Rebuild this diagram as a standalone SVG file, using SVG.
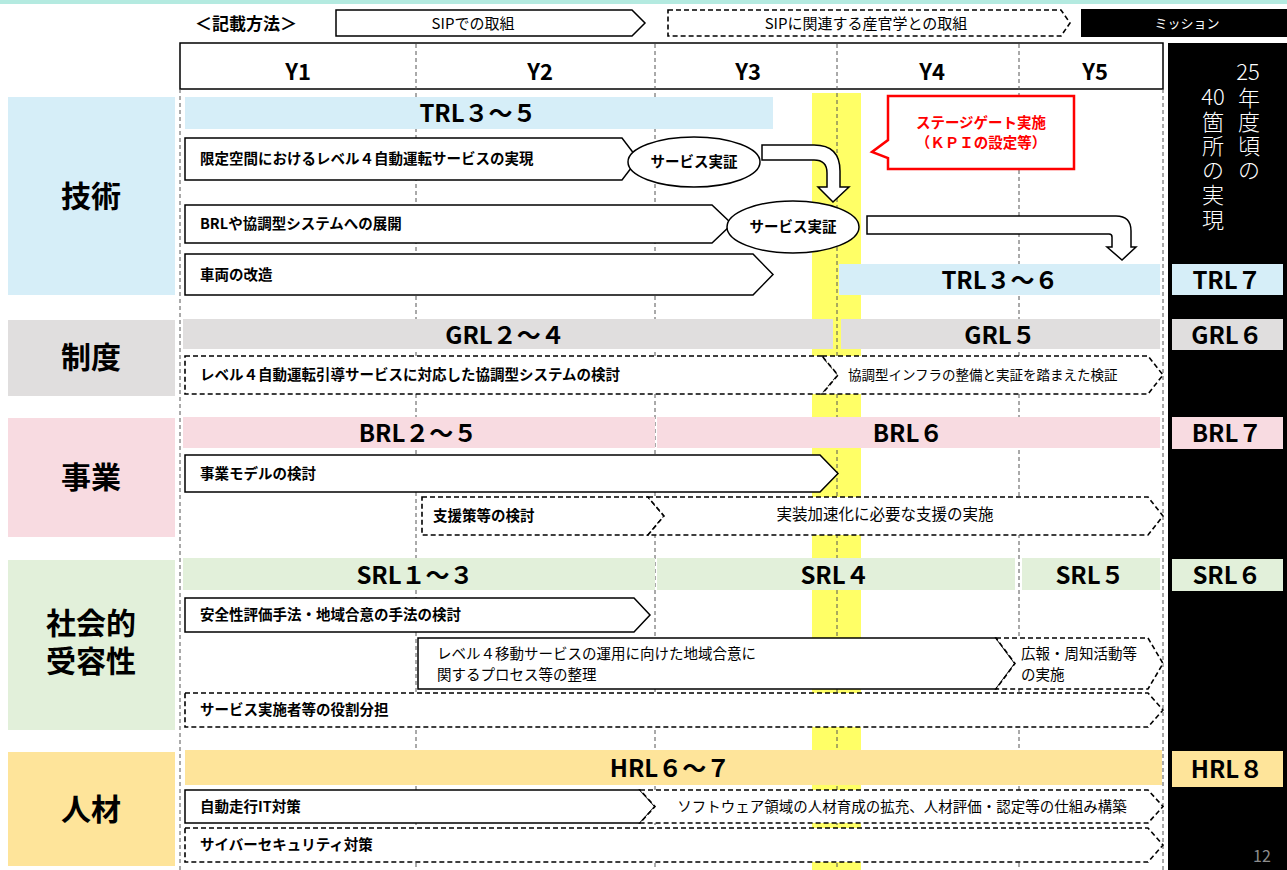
<svg xmlns="http://www.w3.org/2000/svg" width="1287" height="870" viewBox="0 0 1287 870">
<style>
text{font-family:"Noto Sans CJK JP","Noto Sans",sans-serif;fill:#000}
.dl{stroke:#555;stroke-dasharray:4 3;stroke-width:1;fill:none}
.sa{fill:#fff;stroke:#000;stroke-width:1.5}
.da{fill:#fff;stroke:#000;stroke-width:1.6;stroke-dasharray:5 3}
.tb{font-weight:bold;font-size:14.5px}
.tr{font-weight:normal;font-size:14.5px}
.lvl{font-weight:bold;font-size:24px;text-anchor:middle}
.cat{font-weight:bold;font-size:30px;text-anchor:middle}
.yr{font-weight:bold;font-size:22px;text-anchor:middle}
.mis{fill:#fff;font-size:22px;font-weight:300;text-anchor:middle}
.blue{fill:#d6eef8}.gray{fill:#e0dede}.pink{fill:#f8dbe1}.green{fill:#e2f0da}.gold{fill:#fee49a}
</style>
<rect x="0" y="0" width="1287" height="870" fill="#fff"/>
<rect x="0" y="0" width="1287" height="4" fill="#b4eae0"/>

<!-- legend -->
<g id="legend">
<text x="195" y="30" font-weight="bold" font-size="17">＜記載方法＞</text>
<polygon class="sa" points="336,10 632,10 645,23 632,36 336,36"/>
<text x="473" y="29" font-size="15" text-anchor="middle">SIPでの取組</text>
<polygon class="da" points="668,10 1061,10 1070,23 1061,36 668,36"/>
<text x="866" y="29" font-size="15" text-anchor="middle">SIPに関連する産官学との取組</text>
<rect x="1081" y="9" width="206" height="28" fill="#000"/>
<text x="1187" y="28" font-size="13" text-anchor="middle" style="fill:#fff">ミッション</text>
</g>

<!-- mission column -->
<g id="mission">
<rect x="1168" y="43" width="119" height="827" fill="#000"/>
<text class="mis" x="1248" y="80">25</text>
<text class="mis" x="1213" y="105">40</text>
<text class="mis" x="1249" y="106">年</text>
<text class="mis" x="1249" y="130">度</text>
<text class="mis" x="1249" y="154">頃</text>
<text class="mis" x="1249" y="178">の</text>
<text class="mis" x="1213" y="130">箇</text>
<text class="mis" x="1213" y="154">所</text>
<text class="mis" x="1213" y="178">の</text>
<text class="mis" x="1213" y="203">実</text>
<text class="mis" x="1213" y="228">現</text>
<rect class="blue" x="1172" y="264" width="111" height="31"/>
<text class="lvl" x="1227" y="289">TRL７</text>
<rect class="gray" x="1172" y="319" width="111" height="31"/>
<text class="lvl" x="1227" y="344">GRL６</text>
<rect class="pink" x="1172" y="417" width="111" height="32"/>
<text class="lvl" x="1227" y="442">BRL７</text>
<rect class="green" x="1172" y="559" width="111" height="32"/>
<text class="lvl" x="1227" y="584">SRL６</text>
<rect class="gold" x="1172" y="751" width="111" height="36"/>
<text class="lvl" x="1227" y="778">HRL８</text>
<text x="1262" y="862" font-size="16" text-anchor="middle" style="fill:#8c8c8c">12</text>
</g>

<!-- yellow stage gate band -->
<rect x="812" y="93" width="49" height="777" fill="#ffff66"/>

<!-- grid -->
<g id="grid">
<rect x="180" y="43" width="983" height="46" fill="#fff" stroke="#000" stroke-width="1.5"/>
<line class="dl" x1="416" y1="44" x2="416" y2="870"/>
<line class="dl" x1="655" y1="44" x2="655" y2="870"/>
<line class="dl" x1="837" y1="44" x2="837" y2="870"/>
<line class="dl" x1="1019" y1="44" x2="1019" y2="870"/>
<line class="dl" x1="180" y1="89" x2="180" y2="870"/>
<line class="dl" x1="1163" y1="89" x2="1163" y2="870"/>
<text class="yr" x="298" y="80">Y1</text>
<text class="yr" x="540" y="80">Y2</text>
<text class="yr" x="748" y="80">Y3</text>
<text class="yr" x="932" y="80">Y4</text>
<text class="yr" x="1095" y="80">Y5</text>
</g>

<!-- categories -->
<g id="cat-tech"><rect class="blue" x="8" y="97" width="167" height="198"/><text class="cat" x="91" y="207">技術</text></g>
<g id="cat-inst"><rect class="gray" x="8" y="320" width="167" height="76"/><text class="cat" x="91" y="368">制度</text></g>
<g id="cat-biz"><rect class="pink" x="8" y="418" width="167" height="119"/><text class="cat" x="91" y="488">事業</text></g>
<g id="cat-soc"><rect class="green" x="8" y="560" width="167" height="170"/><text class="cat" x="91" y="634">社会的</text><text class="cat" x="91" y="672">受容性</text></g>
<g id="cat-hr"><rect class="gold" x="8" y="752" width="167" height="114"/><text class="cat" x="91" y="820">人材</text></g>

<!-- level bars -->
<g id="levels">
<rect class="blue" x="185" y="97" width="588" height="32"/><text class="lvl" x="478" y="122">TRL３～５</text>
<rect class="blue" x="839" y="264" width="321" height="31"/><text class="lvl" x="1000" y="289">TRL３～６</text>
<rect class="gray" x="183" y="319" width="650" height="30"/><text class="lvl" x="505" y="344">GRL２～４</text>
<rect class="gray" x="841" y="319" width="319" height="30"/><text class="lvl" x="1000" y="344">GRL５</text>
<rect class="pink" x="183" y="417" width="472" height="31"/><text class="lvl" x="418" y="442">BRL２～５</text>
<rect class="pink" x="657" y="417" width="503" height="31"/><text class="lvl" x="908" y="442">BRL６</text>
<rect class="green" x="183" y="558" width="472" height="32"/><text class="lvl" x="415" y="584">SRL１～３</text>
<rect class="green" x="657" y="558" width="358" height="32"/><text class="lvl" x="835" y="584">SRL４</text>
<rect class="green" x="1022" y="558" width="138" height="32"/><text class="lvl" x="1090" y="584">SRL５</text>
<rect class="gold" x="185" y="750" width="977" height="35"/><text class="lvl" x="670" y="777">HRL６～７</text>
</g>

<!-- tech items -->
<g id="t1"><polygon class="sa" points="185,138 622,138 638,159 622,180 185,180"/><text class="tb" x="200" y="164">限定空間におけるレベル４自動運転サービスの実現</text></g>
<g id="t2"><polygon class="sa" points="185,205 712,205 732,224 712,243 185,243"/><text class="tb" x="200" y="229">BRLや協調型システムへの展開</text></g>
<g id="t3"><polygon class="sa" points="185,254 753,254 773,274.5 753,295 185,295"/><text class="tb" x="200" y="280">車両の改造</text></g>
<g id="e1"><ellipse class="sa" cx="694" cy="162" rx="66" ry="25"/><text class="tb" x="694" y="167" text-anchor="middle">サービス実証</text></g>
<g id="e2"><ellipse class="sa" cx="793" cy="227" rx="66" ry="26"/><text class="tb" x="793" y="232" text-anchor="middle">サービス実証</text></g>

<g id="connectors">
<path class="sa" d="M762,145 H814 Q840,145 840,171 V187 H849 L833,202 L818,187 H827 V173 Q827,160 814,160 H762 Z"/>
<path class="sa" d="M867,216 H1116 Q1131,216 1131,231 V247 H1136 L1122,260 L1107,247 H1112 V237 Q1112,234 1109,234 H867 Z"/>
</g>

<g id="stagegate">
<polygon points="888,96 1074,96 1074,169 888,169 888,158 872,152 888,140" fill="#fff" stroke="#ff0000" stroke-width="2.5"/>
<text x="981" y="128" font-weight="bold" font-size="14.5" text-anchor="middle" style="fill:#ff0000">ステージゲート実施</text>
<text x="981" y="148" font-weight="bold" font-size="14.5" text-anchor="middle" style="fill:#ff0000">（ＫＰＩの設定等）</text>
</g>

<!-- institution -->
<g id="g1"><polygon class="da" points="185,356 822,356 838,375 822,394 185,394"/><text class="tb" x="200" y="380">レベル４自動運転引導サービスに対応した協調型システムの検討</text></g>
<g id="g2"><polygon class="da" points="822,356 1148,356 1163,375 1148,394 822,394 838,375"/><text class="tr" x="848" y="380" style="font-size:13.5px">協調型インフラの整備と実証を踏まえた検証</text></g>

<!-- business -->
<g id="b1"><polygon class="sa" points="185,455 820,455 838,473.5 820,492 185,492"/><text class="tb" x="200" y="479">事業モデルの検討</text></g>
<g id="b2"><polygon class="da" points="422,497 648,497 664,516 648,535 422,535"/><text class="tb" x="433" y="521">支援策等の検討</text></g>
<g id="b3"><polygon class="da" points="648,497 1148,497 1163,516 1148,535 648,535 664,516"/><text class="tr" x="885" y="520" text-anchor="middle" style="font-size:15.5px">実装加速化に必要な支援の実施</text></g>

<!-- social -->
<g id="s1"><polygon class="sa" points="185,598 634,598 650,615 634,632 185,632"/><text class="tb" x="200" y="620">安全性評価手法・地域合意の手法の検討</text></g>
<g id="s2"><polygon class="sa" points="418,638 996,638 1015,663.5 996,689 418,689"/><text class="tr" x="437" y="659">レベル４移動サービスの運用に向けた地域合意に</text><text class="tr" x="437" y="680">関するプロセス等の整理</text></g>
<g id="s3"><polygon class="da" points="996,638 1148,638 1163,663.5 1148,689 996,689 1015,663.5"/><text class="tr" x="1021" y="659">広報・周知活動等</text><text class="tr" x="1021" y="680">の実施</text></g>
<g id="s4"><polygon class="da" points="185,693 1148,693 1163,710 1148,727 185,727"/><text class="tb" x="200" y="715">サービス実施者等の役割分担</text></g>

<!-- human resources -->
<g id="h1"><polygon class="sa" points="185,790 640,790 655,806.5 640,823 185,823"/><text class="tb" x="200" y="812">自動走行IT対策</text></g>
<g id="h2"><polygon class="da" points="640,790 1148,790 1163,806.5 1148,823 640,823 655,806.5"/><text class="tr" x="902" y="812" text-anchor="middle">ソフトウェア領域の人材育成の拡充、人材評価・認定等の仕組み構築</text></g>
<g id="h3"><polygon class="da" points="185,828 1148,828 1163,845 1148,862 185,862"/><text class="tb" x="200" y="850">サイバーセキュリティ対策</text></g>
</svg>
